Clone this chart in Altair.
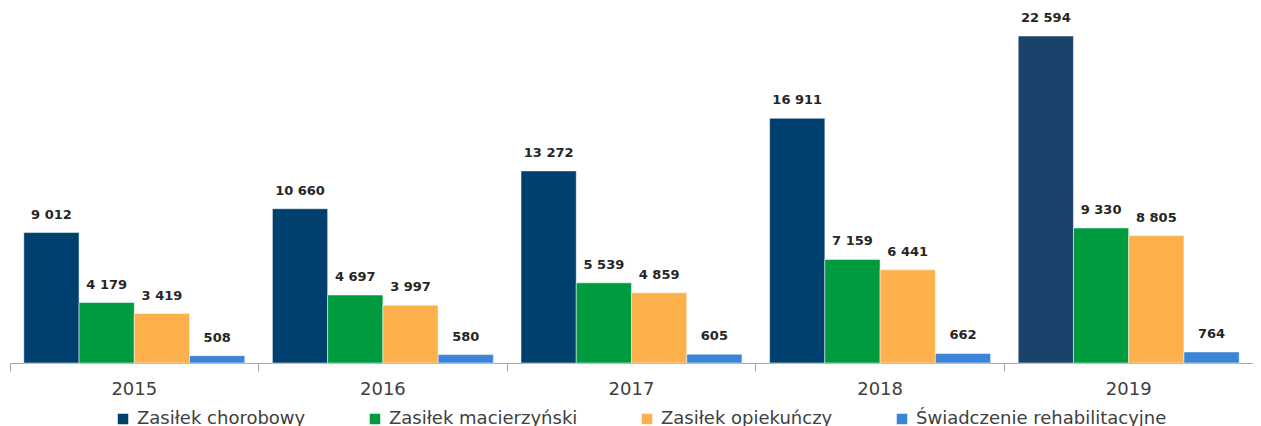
import altair as alt
import pandas as pd

years = ["2015", "2016", "2017", "2018", "2019"]
series = ["Zasiłek chorobowy", "Zasiłek macierzyński", "Zasiłek opiekuńczy", "Świadczenie rehabilitacyjne"]
chorobowy = [9012, 10660, 13272, 16911, 22594]
macierzynski = [4179, 4697, 5539, 7159, 9330]
opiekunczy = [3419, 3997, 4859, 6441, 8805]
rehabilitacyjne = [508, 580, 605, 662, 764]
colors = ["#00406e", "#009a3f", "#fdb14d", "#3c85d6"]

rows = []
for s, vals in zip(series, [chorobowy, macierzynski, opiekunczy, rehabilitacyjne]):
    for y, v in zip(years, vals):
        rows.append({"year": y, "series": s, "value": v})
df = pd.DataFrame(rows)

W = 1243
H = 355

x = alt.X("year:N", sort=years, title=None,
          scale=alt.Scale(paddingInner=0, paddingOuter=0),
          axis=alt.Axis(bandPosition=0, labelAngle=0,
                        labelFontSize=18, labelColor="#404040", labelFont="DejaVu Sans",
                        labelPadding=9, tickSize=8, tickColor="#a6a6a6", domainColor="#a6a6a6",
                        labelOverlap=False, labelBound=False))
xo = alt.XOffset("series:N", sort=series,
                 scale=alt.Scale(paddingInner=0, paddingOuter=0.25))
y = alt.Y("value:Q", axis=None, scale=alt.Scale(domain=[0, 24530], nice=False))

base = alt.Chart(df)

bars = base.mark_bar(stroke="white", strokeWidth=0.5).encode(
    x=x, xOffset=xo, y=y,
    color=alt.condition(
        (alt.datum.year == "2019") & (alt.datum.series == "Zasiłek chorobowy"),
        alt.value("#1b416d"),
        alt.Color("series:N", sort=series,
                  scale=alt.Scale(domain=series, range=colors),
                  legend=alt.Legend(title=None, orient="none", legendX=104, legendY=402,
                                    direction="horizontal", symbolType="square",
                                    symbolSize=110, symbolStrokeWidth=0,
                                    labelFontSize=18, labelFont="DejaVu Sans",
                                    labelColor="#404040", columnPadding=60,
                                    labelLimit=400, labelOffset=5)),
    ),
)

labels = base.transform_calculate(
    label="replace(format(datum.value, ','), ',', ' ')"
).mark_text(dy=-11, baseline="bottom", fontSize=13, fontWeight="bold",
            font="DejaVu Sans", color="#262626").encode(
    x=x, xOffset=xo, y=y, text="label:N"
)

chart = alt.layer(bars, labels).properties(
    width=W, height=H,
    background="white",
    autosize=alt.AutoSizeParams(type="none"),
    padding={"left": 2, "top": 0, "right": 0, "bottom": 63},
).configure_view(strokeWidth=0, stroke="transparent")

chart.save("out.html", embed_options={"renderer": "svg", "actions": False})
